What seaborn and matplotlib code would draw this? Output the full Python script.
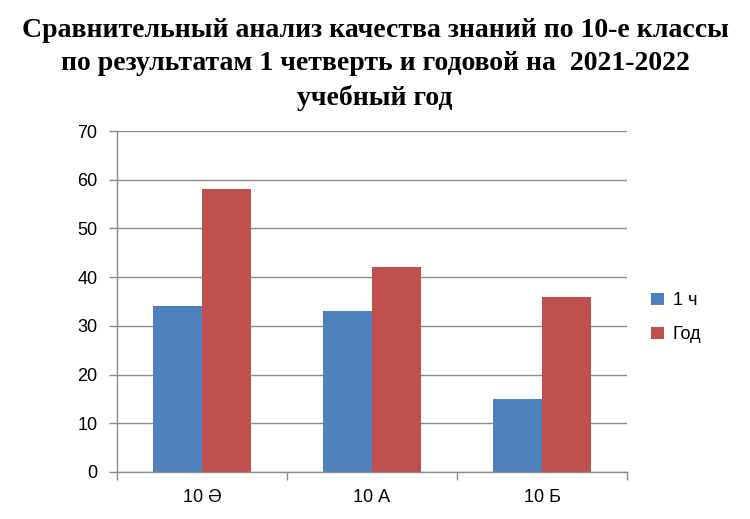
import matplotlib
matplotlib.use("Agg")
import matplotlib.pyplot as plt
import seaborn as sns
import pandas as pd
from matplotlib.patches import Patch

categories = ["10 Ә", "10 А", "10 Б"]
series_names = ["1 ч", "Год"]
values_q1 = [34, 33, 15]
values_year = [58, 42, 36]
yticks = [0, 10, 20, 30, 40, 50, 60, 70]
title = ("Сравнительный анализ качества знаний по 10-е классы\n"
         "по результатам 1 четверть и годовой на  2021-2022\n"
         "учебный год")
colors = ["#4F81BD", "#C0504D"]

df = pd.DataFrame({
    "Класс": categories * 2,
    "Серия": [series_names[0]] * 3 + [series_names[1]] * 3,
    "Значение": values_q1 + values_year,
})

sns.set_theme(style="white")
plt.rcParams['font.family'] = ['Liberation Sans', 'DejaVu Sans']
plt.rcParams['text.color'] = 'black'
plt.rcParams['xtick.labelcolor'] = 'black'
plt.rcParams['ytick.labelcolor'] = 'black'

fig = plt.figure(figsize=(7.5, 5.19), dpi=100)
ax = fig.add_axes([117/750, 1 - 472/519, 510/750, 341/519])

sns.barplot(data=df, x="Класс", y="Значение", hue="Серия", palette=colors,
            width=0.58, ax=ax, legend=False, saturation=1, linewidth=0,
            edgecolor="none")

ax.set_ylim(0, 70)
ax.set_xlim(-0.5, 2.5)
ax.set_yticks(yticks)
ax.yaxis.grid(True, color="#8C8C8C", linewidth=1)
ax.set_axisbelow(True)
ax.set_xlabel("")
ax.set_ylabel("")
for s in ["top", "right"]:
    ax.spines[s].set_visible(False)
for s in ["left", "bottom"]:
    ax.spines[s].set_color("#8C8C8C")
    ax.spines[s].set_linewidth(1)

ax.set_xticks([0, 1, 2])
ax.set_xticklabels(categories)
ax.set_xticks([-0.5, 0.5, 1.5, 2.5], minor=True)
ax.tick_params(axis="x", which="major", length=0, pad=12, labelsize=13, labelcolor="black")
ax.tick_params(axis="x", which="minor", length=6, color="#8C8C8C", width=1, direction="out")
ax.tick_params(axis="y", length=6, color="#8C8C8C", width=1, direction="out", pad=8,
               labelsize=13, labelcolor="black")
ax.tick_params(axis="x", which="minor", bottom=True)
ax.tick_params(axis="y", left=True)

fig.text(0.5, 1 - 18/519, title, ha="center", va="top", fontsize=20,
         fontweight="bold", family=["Liberation Serif", "DejaVu Serif"],
         linespacing=1.43, color="black")

handles = [Patch(facecolor=c, edgecolor="none") for c in colors]
leg = fig.legend(handles, series_names, loc="upper left",
                 bbox_to_anchor=(635/750, 1 - 276/519), frameon=False,
                 fontsize=13, handlelength=0.7, handleheight=0.7,
                 labelspacing=0.95, handletextpad=0.5)
for t in leg.get_texts():
    t.set_color("black")

fig.savefig("out.png", dpi=100)
